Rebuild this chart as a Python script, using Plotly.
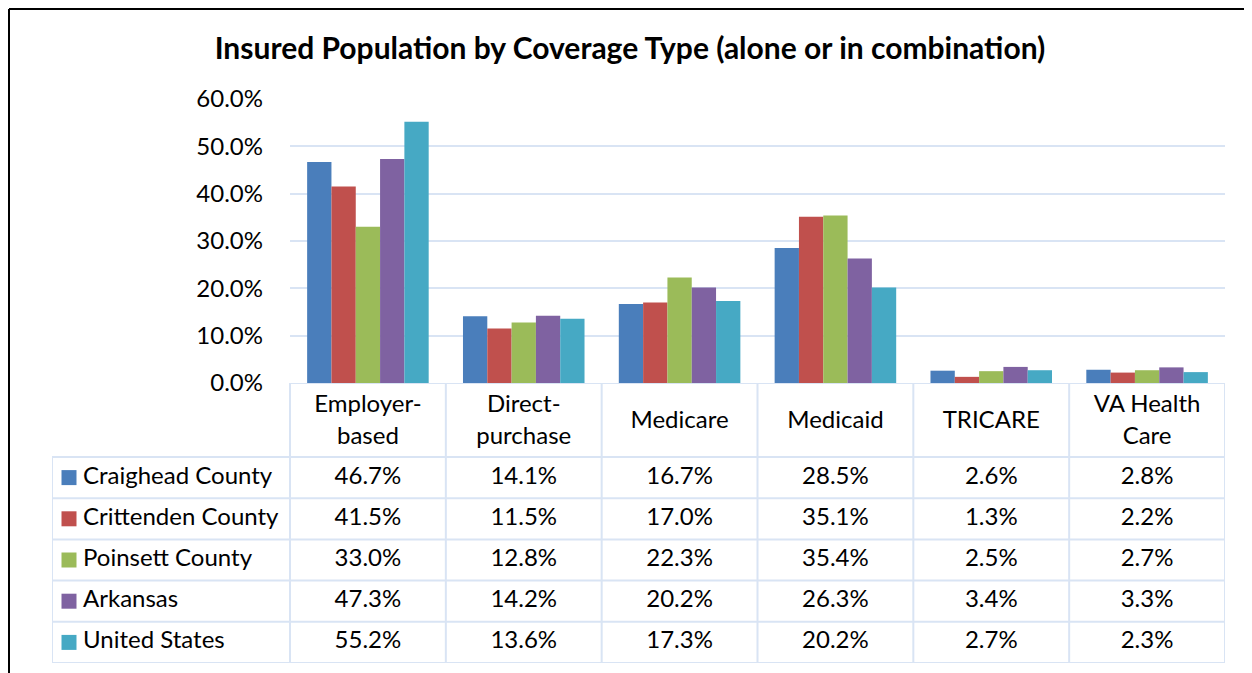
import plotly.graph_objects as go

categories = ["Employer-based", "Direct-purchase", "Medicare", "Medicaid", "TRICARE", "VA Health Care"]
header_labels = ["Employer-<br>based", "Direct-<br>purchase", "Medicare", "Medicaid", "TRICARE", "VA Health<br>Care"]
series_names = ["Craighead County", "Crittenden County", "Poinsett County", "Arkansas", "United States"]
craighead = [46.7, 14.1, 16.7, 28.5, 2.6, 2.8]
crittenden = [41.5, 11.5, 17.0, 35.1, 1.3, 2.2]
poinsett = [33.0, 12.8, 22.3, 35.4, 2.5, 2.7]
arkansas = [47.3, 14.2, 20.2, 26.3, 3.4, 3.3]
united_states = [55.2, 13.6, 17.3, 20.2, 2.7, 2.3]
series_values = [craighead, crittenden, poinsett, arkansas, united_states]
colors = ["#4A7EBB", "#C0504D", "#9BBB59", "#7F62A1", "#46A9C4"]
y_ticks = [0, 10, 20, 30, 40, 50, 60]

# page body has an 8px margin; the figure is sized and laid out to sit inside it
OFF = 8
W, H = 1252 - OFF, 673 - OFF
FONT = "Lato"
FS = 24
GRID = "#D9E4F4"

# target page-pixel layout
px_l, px_r = 290, 1225
py_t, py_b = 99, 383
tab_l, tab_b = 52, 663
hdr_b = 457

def fx(p):
    return (p - OFF) / W

def fy(p):
    return 1 - (p - OFF) / H

ncat = len(categories)
colw = (px_r - px_l) / ncat
row_h = (tab_b - hdr_b) / len(series_names)
x2_min = -0.5 - (px_l - tab_l) / colw
y2_top = -0.5 - (hdr_b - py_b) / row_h

fig = go.Figure()

x_idx = list(range(ncat))
for name, vals, col in zip(series_names, series_values, colors):
    fig.add_trace(go.Bar(x=x_idx, y=vals, name=name, marker=dict(color=col, line=dict(width=0)),
                         xaxis="x", yaxis="y", showlegend=False))

# table values as text
for r, vals in enumerate(series_values):
    fig.add_trace(go.Scatter(x=x_idx, y=[r] * ncat, mode="text",
                             text=[f"{v:.1f}%" for v in vals],
                             textfont=dict(family=FONT, size=FS, color="black"),
                             xaxis="x2", yaxis="y2", showlegend=False, hoverinfo="skip"))

# header labels
fig.add_trace(go.Scatter(x=x_idx, y=[(y2_top - 0.5) / 2 + 0.05] * ncat, mode="text",
                         text=header_labels,
                         textfont=dict(family=FONT, size=FS, color="black"),
                         xaxis="x2", yaxis="y2", showlegend=False, hoverinfo="skip"))

# legend swatches
sw_x = x2_min + (69 - tab_l) / colw
txt_x = x2_min + (83 - tab_l) / colw
fig.add_trace(go.Scatter(x=[sw_x] * len(series_names), y=list(range(len(series_names))), mode="markers",
                         marker=dict(symbol="square", size=15, color=colors, line=dict(width=0)),
                         xaxis="x2", yaxis="y2", showlegend=False, hoverinfo="skip"))
fig.add_trace(go.Scatter(x=[txt_x] * len(series_names), y=list(range(len(series_names))), mode="text",
                         text=series_names, textposition="middle right",
                         textfont=dict(family=FONT, size=FS, color="black"),
                         xaxis="x2", yaxis="y2", showlegend=False, hoverinfo="skip"))

shapes = []
lw = 2
shapes.append(dict(type="line", xref="x2", yref="y2", x0=-0.5, x1=ncat - 0.5, y0=y2_top, y1=y2_top,
                   line=dict(color=GRID, width=lw)))
for k in range(len(series_names) + 1):
    yy = k - 0.5
    shapes.append(dict(type="line", xref="x2", yref="y2", x0=x2_min, x1=ncat - 0.5, y0=yy, y1=yy,
                       line=dict(color=GRID, width=lw)))
for k in range(ncat + 1):
    xx = k - 0.5
    shapes.append(dict(type="line", xref="x2", yref="y2", x0=xx, x1=xx, y0=y2_top, y1=len(series_names) - 0.5,
                       line=dict(color=GRID, width=lw)))
shapes.append(dict(type="line", xref="x2", yref="y2", x0=x2_min, x1=x2_min, y0=-0.5, y1=len(series_names) - 0.5,
                   line=dict(color=GRID, width=lw)))
# outer black frame (left and top edges visible)
shapes.append(dict(type="line", xref="paper", yref="paper", x0=fx(9), x1=fx(9), y0=fy(9), y1=fy(700),
                   line=dict(color="black", width=2), layer="above"))
shapes.append(dict(type="line", xref="paper", yref="paper", x0=fx(9), x1=fx(1300), y0=fy(9), y1=fy(9),
                   line=dict(color="black", width=2), layer="above"))

fig.update_layout(
    width=W, height=H,
    margin=dict(l=0, r=0, t=0, b=0, autoexpand=False),
    paper_bgcolor="white", plot_bgcolor="white",
    bargap=0.22, bargroupgap=0,
    title=dict(text="<b>Insured Population by Coverage Type (alone or in combination)</b>",
               x=fx(630), xanchor="center", y=fy(48), yanchor="middle",
               font=dict(family=FONT, size=30, color="black")),
    font=dict(family=FONT, size=FS, color="black"),
    xaxis=dict(domain=[fx(px_l), fx(px_r)], range=[-0.5, ncat - 0.5], showticklabels=False,
               showgrid=False, zeroline=False, showline=False, ticks="", fixedrange=True),
    yaxis=dict(domain=[fy(py_b), fy(py_t)], range=[0, 60], tickvals=y_ticks,
               ticktext=[f"{v:.1f}%" for v in y_ticks], showgrid=True, gridcolor=GRID, gridwidth=2,
               zeroline=False, showline=False, ticks="", ticklabelstandoff=26,
               tickfont=dict(family=FONT, size=FS, color="black")),
    xaxis2=dict(domain=[fx(tab_l), fx(px_r)], range=[x2_min, ncat - 0.5], anchor="y2",
                visible=False, fixedrange=True),
    yaxis2=dict(domain=[fy(tab_b), fy(py_b)], range=[len(series_names) - 0.5, y2_top], anchor="x2",
                visible=False, fixedrange=True),
    shapes=shapes,
)

fig.write_html("out.html")
